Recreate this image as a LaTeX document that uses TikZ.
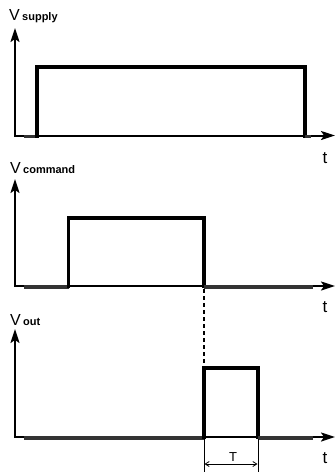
\documentclass[tikz,border=0pt]{standalone}
\usepackage{fontspec}
\setmainfont{Liberation Sans}
\usetikzlibrary{arrows.meta}
\begin{document}
\begin{tikzpicture}[x=1pt,y=-1pt,
  axis/.style={line width=2pt, line join=miter, {Stealth[length=14pt,width=9pt,inset=3pt]}-{Stealth[length=14pt,width=9pt,inset=3pt]}},
  sig/.style={line width=3.8pt, line join=miter, black},
  siglow/.style={line width=3.8pt, black!80},
  vlbl/.style={anchor=base west, inner sep=0pt, font=\fontsize{16}{16}\selectfont},
  sublbl/.style={anchor=base west, inner sep=0pt, font=\fontsize{11}{12}\selectfont\bfseries},
  tlbl/.style={inner sep=0pt, font=\fontsize{17}{17}\selectfont},
  dim/.style={line width=0.8pt},
  dimarrow/.style={line width=0.8pt, {Straight Barb[length=4pt,width=5pt]}-{Straight Barb[length=4pt,width=5pt]}},
  guide/.style={line width=1.5pt, dash pattern=on 4pt off 3pt},
]
\useasboundingbox (0,0) rectangle (335,472);

% ---------- panel 1: V supply ----------
\coordinate (a1top) at (15,28);
\coordinate (a1org) at (15,135.5);
\coordinate (a1end) at (335,135.5);
\draw[axis] (a1top) -- (a1org) -- (a1end);
\draw[siglow] (24,136.5) -- (37,136.5);
\draw[sig] (37,137.5) -- (37,67) -- (305,67) -- (305,137.5);
\draw[siglow] (305,136.5) -- (311,136.5);
\node[vlbl] (v1) at (9,20) {V};
\node[sublbl] (s1) at (22,20) {supply};
\node[tlbl] (t1) at (325,158.5) {t};

% ---------- panel 2: V command ----------
\coordinate (a2top) at (15,179);
\coordinate (a2org) at (15,286);
\coordinate (a2end) at (335,286);
\draw[axis] (a2top) -- (a2org) -- (a2end);
\draw[siglow] (24,287) -- (68.5,287);
\draw[sig] (68.5,288) -- (68.5,218) -- (204,218) -- (204,288);
\draw[siglow] (204,287) -- (313,287);
\node[vlbl] (v2) at (10,173) {V};
\node[sublbl] (s2) at (23,173) {command};
\node[tlbl] (t2) at (325,307.5) {t};

% ---------- panel 3: V out ----------
\coordinate (a3top) at (15,329);
\coordinate (a3org) at (15,437);
\coordinate (a3end) at (335,437);
\draw[axis] (a3top) -- (a3org) -- (a3end);
\draw[siglow] (24,438) -- (204,438);
\draw[sig] (204,439) -- (204,368) -- (258,368) -- (258,439);
\draw[siglow] (258,438) -- (313,438);
\node[vlbl] (v3) at (10,325) {V};
\node[sublbl] (s3) at (23,325) {out};
\node[tlbl] (t3) at (325,458.5) {t};

% ---------- guide and duration ----------
\coordinate (g1) at (204,289);
\coordinate (g2) at (204,366);
\draw[guide] (g1) -- (g2);
\coordinate (d1a) at (204,439);
\coordinate (d1b) at (204,472);
\coordinate (d2a) at (258,439);
\coordinate (d2b) at (258,472);
\draw[dim] (d1a) -- (d1b);
\draw[dim] (d2a) -- (d2b);
\coordinate (m1) at (204.5,464);
\coordinate (m2) at (257.5,464);
\draw[dimarrow] (m1) -- (m2);
\node[inner sep=0pt, font=\fontsize{13}{13}\selectfont] (T) at (233,457) {T};
\end{tikzpicture}
\end{document}
